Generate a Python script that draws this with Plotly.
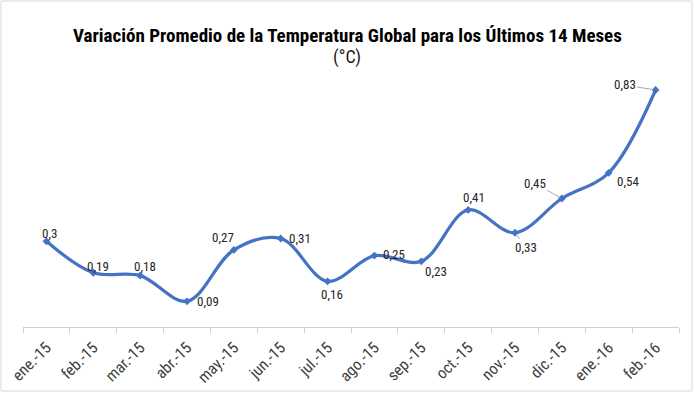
import plotly.graph_objects as go

months = ["ene.-15", "feb.-15", "mar.-15", "abr.-15", "may.-15", "jun.-15", "jul.-15",
          "ago.-15", "sep.-15", "oct.-15", "nov.-15", "dic.-15", "ene.-16", "feb.-16"]
values = [0.30, 0.19, 0.18, 0.09, 0.27, 0.31, 0.16, 0.25, 0.23, 0.41, 0.33, 0.45, 0.54, 0.83]
labels = ["0,3", "0,19", "0,18", "0,09", "0,27", "0,31", "0,16", "0,25", "0,23", "0,41",
          "0,33", "0,45", "0,54", "0,83"]

# label offsets in pixels (dx, dy with y downward) and whether a leader line is drawn
offsets = [(3, -8), (5, -6), (5, -9), (21, 0), (-11, -12), (19, 0), (4, 13), (20, -1),
           (15, 10), (6, -12), (11, 15), (-27, -15), (19, 9), (-31, -5)]
leaders = [False] * 10 + [True, True, False, True]

W, H = 694, 393
L, R, T, B = 23, 15, 70, 66

FONT = "Roboto Condensed, Liberation Sans Narrow, Arial Narrow, Roboto, sans-serif"
LINE_COLOR = "#4472C4"

fig = go.Figure()
fig.add_trace(go.Scatter(
    x=months, y=values, mode="lines+markers",
    line=dict(color=LINE_COLOR, width=3.2, shape="spline", smoothing=1.0),
    marker=dict(symbol="diamond", size=6, color=LINE_COLOR),
    hoverinfo="skip", showlegend=False,
))

annotations = []
for m, v, t, (dx, dy), ld in zip(months, values, labels, offsets, leaders):
    if ld:
        annotations.append(dict(
            x=m, y=v, xref="x", yref="y", text=t, showarrow=True,
            ax=dx, ay=dy, arrowhead=0, arrowwidth=1, arrowcolor="#a6a6a6",
            standoff=2, font=dict(family=FONT, size=13, color="#262626"),
        ))
    else:
        annotations.append(dict(
            x=m, y=v, xref="x", yref="y", text=t, showarrow=False,
            xshift=dx, yshift=-dy, font=dict(family=FONT, size=13, color="#262626"),
        ))

pw = W - L - R
ph = H - T - B
annotations.append(dict(
    x=0.5 * W, y=22, xref="paper", yref="paper",
    text="<b>Variación Promedio de la Temperatura Global para los Últimos 14 Meses</b>",
    showarrow=False, font=dict(family=FONT, size=19, color="#000000"),
))
annotations.append(dict(
    x=0.5 * W, y=44, xref="paper", yref="paper", text="(°C)",
    showarrow=False, font=dict(family=FONT, size=18, color="#1a1a1a"),
))
# convert the two title annotations from pixel to paper coords
for a in annotations[-2:]:
    a["x"] = (a["x"] - L) / pw
    a["y"] = 1 + (T - a["y"]) / ph

fig.update_layout(
    width=W, height=H,
    margin=dict(l=L, r=R, t=T, b=B, autoexpand=False),
    paper_bgcolor="white", plot_bgcolor="white",
    annotations=annotations,
    xaxis=dict(
        type="category", range=[-0.5, 13.5], showgrid=False, zeroline=False,
        showline=True, linecolor="#d0d0d0", linewidth=1, automargin=False,
        ticks="outside", ticklen=5, tickcolor="#d0d0d0", tickson="boundaries",
        ticklabelstandoff=4,
        tickangle=-45, tickfont=dict(family=FONT, size=16, color="#404040"),
        fixedrange=True,
    ),
    yaxis=dict(range=[0, 0.9], visible=False, fixedrange=True, automargin=False),
    shapes=[dict(
        type="rect", xref="paper", yref="paper",
        x0=(1 - L) / pw, x1=(W - 2 - L) / pw,
        y0=1 + (T - (H - 2)) / ph, y1=1 + (T - 1) / ph,
        line=dict(color="#d9d9d9", width=1), fillcolor="rgba(0,0,0,0)", layer="below",
    )],
)

fig.write_html("out.html", config={"displayModeBar": False},
               post_script="document.body.style.margin='0';")
